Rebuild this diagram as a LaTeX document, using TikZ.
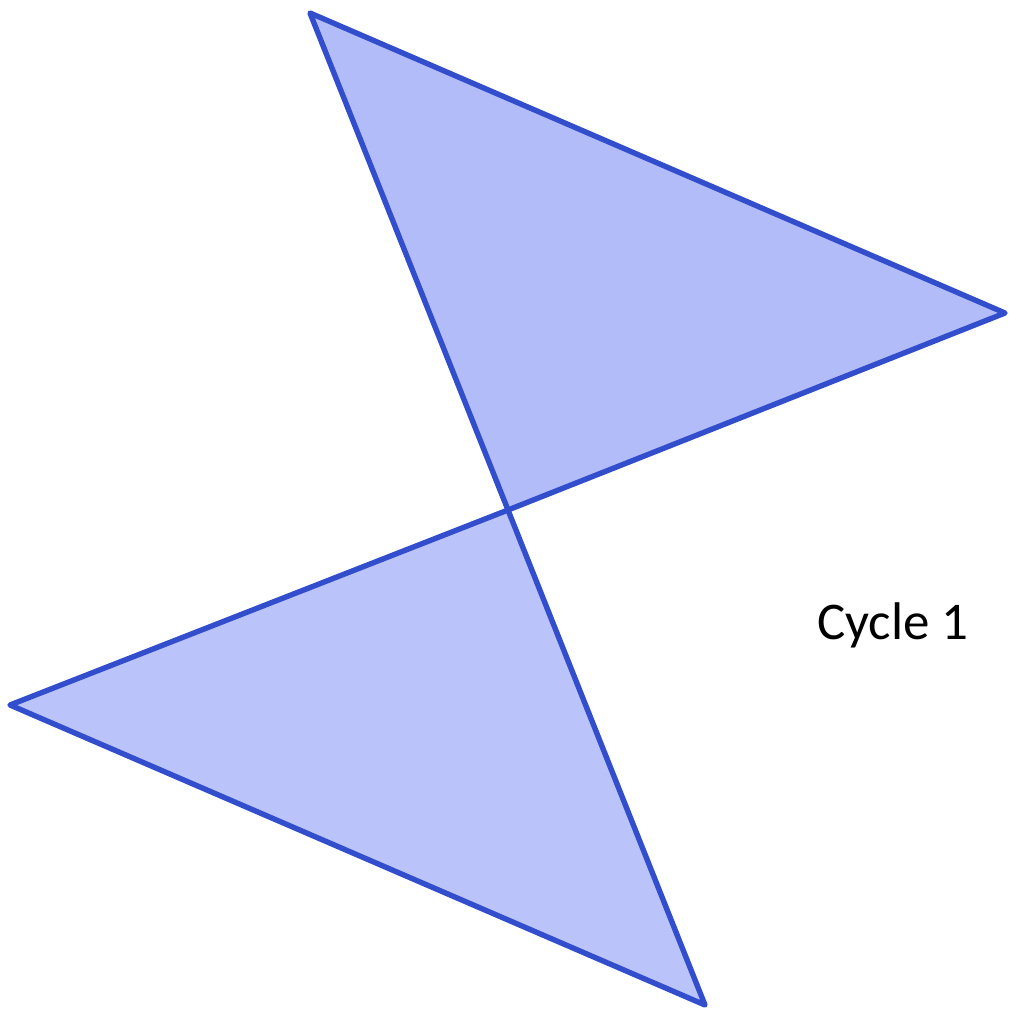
\documentclass[tikz,border=0pt]{standalone}
\usepackage{fontspec}
\setmainfont{Carlito}
\usepackage{tikz}
\definecolor{cycleline}{RGB}{50, 78, 204}
\definecolor{cyclefillA}{RGB}{177, 188, 248}
\definecolor{cyclefillB}{RGB}{186, 195, 250}
\usetikzlibrary{positioning}

\begin{document}
\begin{tikzpicture}[x=0.5pt, y=-0.5pt,
					wing/.style={draw=cycleline, line width=2.7pt, line join=round},
					font=\fontsize{26.5}{31}\selectfont]
					%Bildbereich festlegen
					\useasboundingbox (0,0) rectangle (1010,1012);
					% Eckpunkte
					\coordinate (top) at (310,13);
					\coordinate (right) at (1005,313);
					\coordinate (mid) at (508,510);
					\coordinate (left) at (10,705);
					\coordinate (bottom) at (705,1005);
					% Dreiecke zeichnen
					\filldraw[wing, fill=cyclefillA] (top) -- (right) -- (mid) -- cycle;
					\filldraw[wing, fill=cyclefillB] (mid) -- (left) -- (bottom) -- cycle;
					% Beschriftung
					\node (label) at (893,625) {Cycle 1};
				\end{tikzpicture}
\end{document}
